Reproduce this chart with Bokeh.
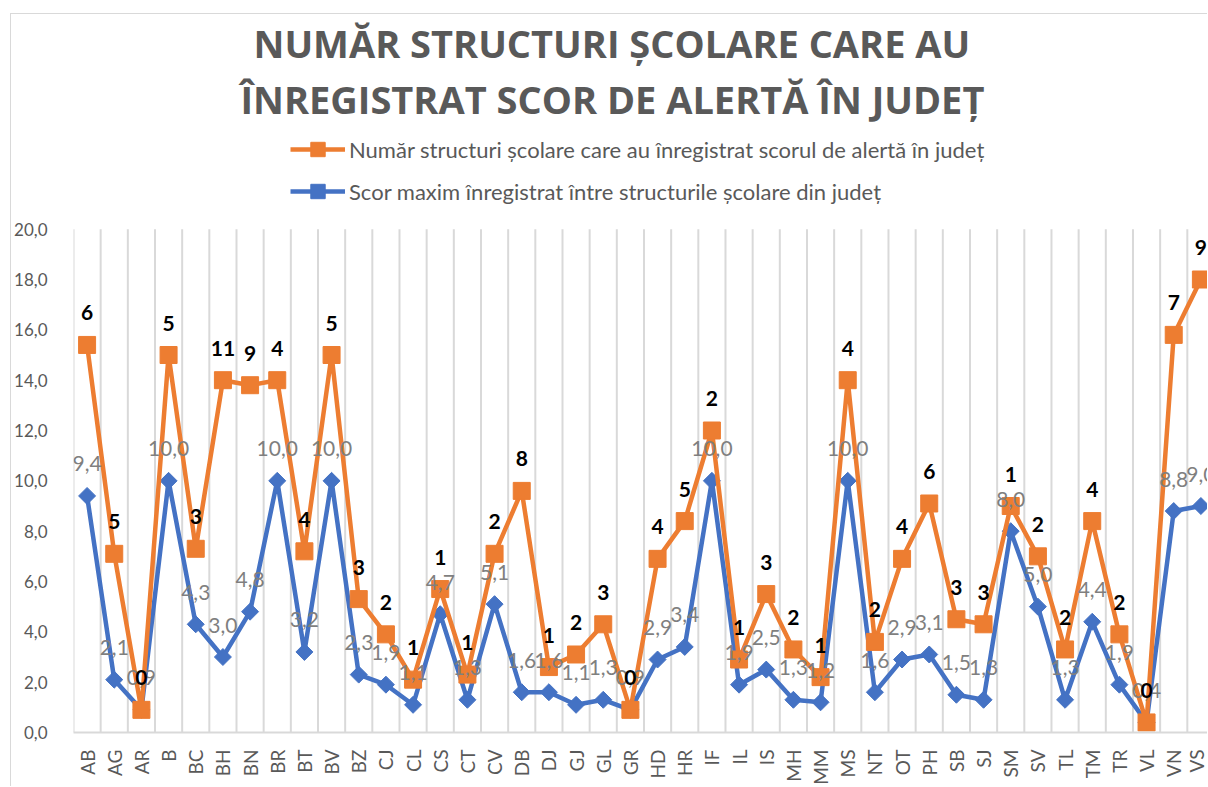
import math
from bokeh.plotting import figure
from bokeh.models import (ColumnDataSource, Range1d, FixedTicker, Legend,
                          LegendItem, Title)
from bokeh.transform import stack
from bokeh.core.properties import value
from bokeh.embed import file_html
from bokeh.resources import INLINE

categories = ["AB", "AG", "AR", "B", "BC", "BH", "BN", "BR", "BT", "BV", "BZ",
              "CJ", "CL", "CS", "CT", "CV", "DB", "DJ", "GJ", "GL", "GR", "HD",
              "HR", "IF", "IL", "IS", "MH", "MM", "MS", "NT", "OT", "PH", "SB",
              "SJ", "SM", "SV", "TL", "TM", "TR", "VL", "VN", "VS"]
# Scor maxim înregistrat (blue series)
score = [9.4, 2.1, 0.9, 10.0, 4.3, 3.0, 4.8, 10.0, 3.2, 10.0, 2.3, 1.9, 1.1,
         4.7, 1.3, 5.1, 1.6, 1.6, 1.1, 1.3, 0.9, 2.9, 3.4, 10.0, 1.9, 2.5,
         1.3, 1.2, 10.0, 1.6, 2.9, 3.1, 1.5, 1.3, 8.0, 5.0, 1.3, 4.4, 1.9,
         0.4, 8.8, 9.0]
# Număr structuri școlare (orange series, stacked on top of score)
count = [6, 5, 0, 5, 3, 11, 9, 4, 4, 5, 3, 2, 1, 1, 1, 2, 8, 1, 2, 3, 0, 4,
         5, 2, 1, 3, 2, 1, 4, 2, 4, 6, 3, 3, 1, 2, 2, 4, 2, 0, 7, 9]
y_ticks = [0, 2, 4, 6, 8, 10, 12, 14, 16, 18, 20]

TITLE_1 = "NUMĂR STRUCTURI ȘCOLARE CARE AU"
TITLE_2 = "ÎNREGISTRAT SCOR DE ALERTĂ ÎN JUDEȚ"
LEG_1 = "Număr structuri școlare care au înregistrat scorul de alertă în județ"
LEG_2 = "Scor maxim înregistrat între structurile școlare din județ"

ORANGE = "#ED7D31"
BLUE = "#4472C4"
GRID = "#d9d9d9"
TXT = "#595959"
FONT = "Lato"

idx = list(range(len(categories)))
bounds = [i - 0.5 for i in range(len(categories) + 1)]
source = ColumnDataSource(dict(
    x=idx,
    score=score,
    count=count,
    score_lbl=[f"{v:.1f}".replace(".", ",") for v in score],
    count_lbl=[str(c) for c in count],
))
grid_src = ColumnDataSource(dict(x=bounds, y0=[y_ticks[0]] * len(bounds),
                                 y1=[y_ticks[-1]] * len(bounds)))

# y range extends above 20 to leave room for the legend inside the frame
p = figure(width=1197, height=773, output_backend="svg", toolbar_location=None,
           x_range=Range1d(-0.5, 41.28), y_range=Range1d(0, 24.08),
           min_border_left=59, min_border_right=0, min_border_bottom=54,
           min_border_top=111)
p.margin = (13, 0, 0, 10)
p.styles = {"border-left": f"1px solid {GRID}", "border-top": f"1px solid {GRID}"}
p.outline_line_color = None
p.background_fill_color = "white"
p.border_fill_color = "white"

# axes
p.xaxis.ticker = FixedTicker(ticks=idx)
p.xaxis.major_label_overrides = {i: c for i, c in enumerate(categories)}
p.xaxis.major_label_orientation = math.pi / 2
p.xaxis.major_label_text_font = FONT
p.xaxis.major_label_text_font_size = "19px"
p.xaxis.major_label_text_color = TXT
p.xaxis.major_label_standoff = 11
p.xaxis.axis_line_color = GRID
p.xaxis.axis_line_width = 2
p.xaxis.major_tick_line_color = None
p.xaxis.minor_tick_line_color = None

p.yaxis.ticker = FixedTicker(ticks=y_ticks)
p.yaxis.major_label_overrides = {t: f"{t:.1f}".replace(".", ",") for t in y_ticks}
p.yaxis.major_label_text_font = FONT
p.yaxis.major_label_text_font_size = "17px"
p.yaxis.major_label_text_color = TXT
p.yaxis.major_label_standoff = 20
p.yaxis.axis_line_color = None
p.yaxis.major_tick_line_color = None
p.yaxis.minor_tick_line_color = None

p.xgrid.grid_line_color = None
p.ygrid.grid_line_color = None
# vertical category-boundary grid lines, limited to the 0..20 value axis
p.segment(x0="x", y0="y0", x1="x", y1="y1", source=grid_src,
          line_color=GRID, line_width=2)

# series
b_line = p.line(x="x", y="score", source=source, line_color=BLUE, line_width=4.5)
b_pts = p.scatter(x="x", y="score", source=source, marker="square", size=12,
                  angle=math.pi / 4, fill_color=BLUE, line_color=BLUE)
o_line = p.line(x="x", y=stack("score", "count"), source=source,
                line_color=ORANGE, line_width=4.5)
o_pts = p.scatter(x="x", y=stack("score", "count"), source=source,
                  marker="square", size=17, fill_color=ORANGE, line_color=ORANGE)

# data labels
p.text(x="x", y="score", text="score_lbl", source=source, y_offset=-32,
       text_align="center", text_baseline="middle", text_font=value(FONT),
       text_font_size="21px", text_color="#7f7f7f")
p.text(x="x", y=stack("score", "count"), text="count_lbl", source=source,
       y_offset=-32, text_align="center", text_baseline="middle",
       text_font=value(FONT), text_font_size="21px", text_font_style="bold",
       text_color="black")

legend = Legend(items=[LegendItem(label=LEG_1, renderers=[o_line, o_pts]),
                       LegendItem(label=LEG_2, renderers=[b_line, b_pts])],
                orientation="vertical", location=(217, 523),
                border_line_color=None, background_fill_alpha=0,
                label_text_font=FONT, label_text_font_size="22px",
                label_text_color=TXT, glyph_width=55, glyph_height=36,
                label_height=36, label_standoff=4, spacing=6, padding=0,
                margin=0)
p.add_layout(legend)

p.add_layout(Title(text=TITLE_2, align="left", text_font="Open Sans",
                   text_font_size="38px", text_font_style="bold",
                   text_color=TXT, offset=167, standoff=4), "above")
p.add_layout(Title(text=TITLE_1, align="left", text_font="Open Sans",
                   text_font_size="38px", text_font_style="bold",
                   text_color=TXT, offset=180, standoff=0), "above")

open("out.html", "w").write(file_html(p, INLINE))
